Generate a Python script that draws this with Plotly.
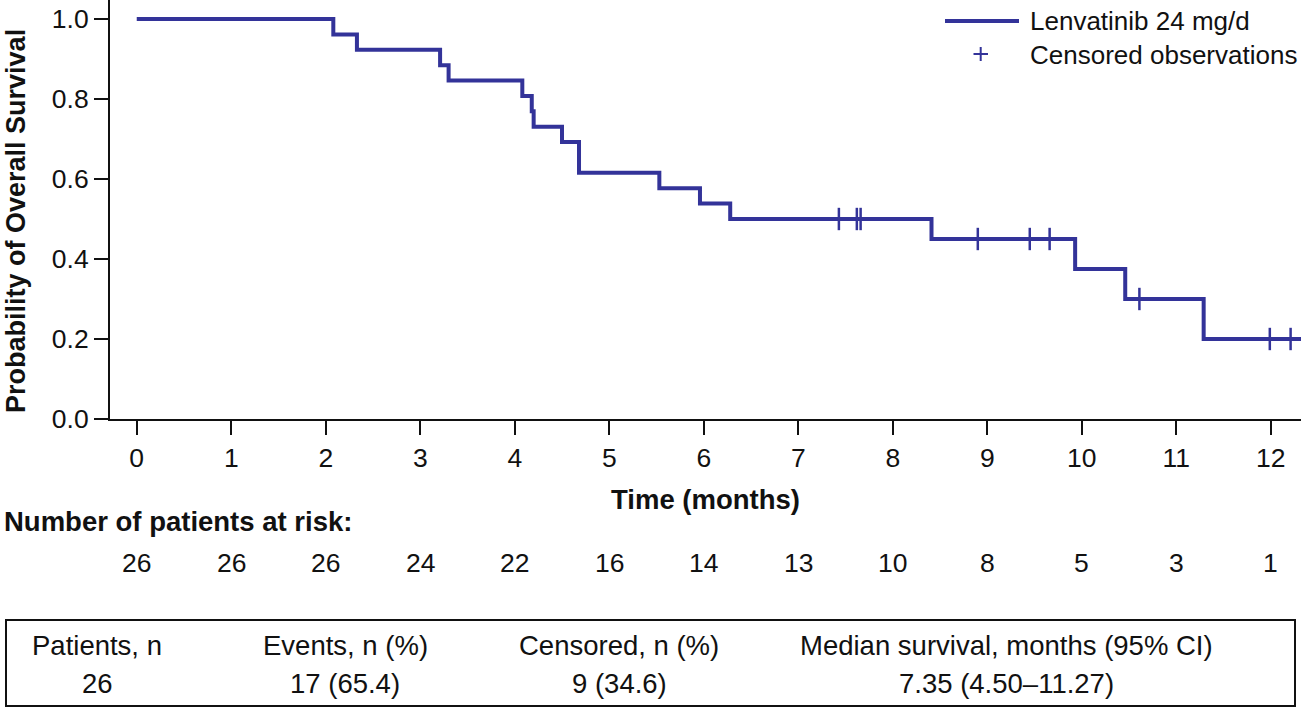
import plotly.graph_objects as go

# ---------------- data ----------------
# Kaplan-Meier step curve: time (months) and survival probability after each step
step_times = [0.0, 2.08, 2.33, 3.21, 3.30, 4.08, 4.18, 4.20, 4.50, 4.68, 5.53, 5.96, 6.28,
              8.41, 9.93, 10.46, 11.29, 12.32]
step_surv = [1.0, 0.9615, 0.9231, 0.8846, 0.8462, 0.8077, 0.7692, 0.7308, 0.6923, 0.6154,
             0.5769, 0.5385, 0.5000, 0.4500, 0.3750, 0.3000, 0.2000, 0.2000]

# Censored observations
censor_times = [7.43, 7.62, 7.66, 8.90, 9.45, 9.66, 10.61, 11.99, 12.21]
censor_surv = [0.50, 0.50, 0.50, 0.45, 0.45, 0.45, 0.30, 0.20, 0.20]

# Number at risk
risk_times = [0, 1, 2, 3, 4, 5, 6, 7, 8, 9, 10, 11, 12]
at_risk = [26, 26, 26, 24, 22, 16, 14, 13, 10, 8, 5, 3, 1]

# y ticks
y_ticks = [0.0, 0.2, 0.4, 0.6, 0.8, 1.0]
y_ticklabels = ["0.0", "0.2", "0.4", "0.6", "0.8", "1.0"]

# Summary table
table_headers = ["Patients, n", "Events, n (%)", "Censored, n (%)", "Median survival, months (95% CI)"]
table_values = ["26", "17 (65.4)", "9 (34.6)", "7.35 (4.50\u201311.27)"]

series_name = "Lenvatinib 24 mg/d"
censor_name = "Censored observations"

# ---------------- styling / layout ----------------
W, H = 1301, 708
ML, MR, MT, MB = 110, 0, 0, 289
PW, PH = W - ML - MR, H - MT - MB
LINE_COLOR = "#333399"
FONT = "Liberation Sans, Arial, Helvetica, sans-serif"
TXT = "#111111"
FS_TICK = 26.5
FS_TITLE = 27.5
FS_TABLE = 27.5
FS_LEG = 26


def px(xp):
    return (xp - ML) / PW


def py(yp):
    return (H - MB - yp) / PH


fig = go.Figure()
fig.add_trace(go.Scatter(
    x=step_times, y=step_surv, mode="lines", line_shape="hv",
    line=dict(color=LINE_COLOR, width=4), name=series_name, showlegend=False,
    hoverinfo="skip", cliponaxis=True))
fig.add_trace(go.Scatter(
    x=censor_times, y=censor_surv, mode="markers",
    marker=dict(symbol="line-ns", size=16, line=dict(color=LINE_COLOR, width=2.5)),
    name=censor_name, showlegend=False, hoverinfo="skip", cliponaxis=False))

annotations = []
shapes = []

# legend (drawn manually to match reference sizes)
shapes.append(dict(type="line", xref="paper", yref="paper",
                   x0=px(945), x1=px(1019), y0=py(21), y1=py(21),
                   line=dict(color=LINE_COLOR, width=4)))
shapes.append(dict(type="line", xref="paper", yref="paper",
                   x0=px(973.5), x1=px(988), y0=py(54), y1=py(54),
                   line=dict(color=LINE_COLOR, width=2)))
shapes.append(dict(type="line", xref="paper", yref="paper",
                   x0=px(980.7), x1=px(980.7), y0=py(47), y1=py(61),
                   line=dict(color=LINE_COLOR, width=2)))
for label, yy in [(series_name, 21), (censor_name, 55)]:
    annotations.append(dict(text=label, xref="paper", yref="paper", x=px(1028), y=py(yy),
                            xanchor="left", yanchor="middle", showarrow=False,
                            font=dict(size=FS_LEG, color=TXT, family=FONT)))

# y-axis title
annotations.append(dict(text="<b>Probability of Overall Survival</b>", xref="paper", yref="paper",
                        x=px(16), y=py(221), textangle=-90, xanchor="center", yanchor="middle",
                        showarrow=False, font=dict(size=27, color=TXT, family=FONT)))
# x-axis title
annotations.append(dict(text="<b>Time (months)</b>", xref="paper", yref="paper",
                        x=px(705), y=py(500), xanchor="center", yanchor="middle",
                        showarrow=False, font=dict(size=FS_TITLE, color=TXT, family=FONT)))
# number at risk
annotations.append(dict(text="<b>Number of patients at risk:</b>", xref="paper", yref="paper",
                        x=px(2), y=py(521), xanchor="left", yanchor="middle",
                        showarrow=False, font=dict(size=FS_TITLE, color=TXT, family=FONT)))
for t, n in zip(risk_times, at_risk):
    annotations.append(dict(text=str(n), xref="x", yref="paper", x=t, y=py(563),
                            xanchor="center", yanchor="middle", showarrow=False,
                            font=dict(size=FS_TICK, color=TXT, family=FONT)))

# summary table
shapes.append(dict(type="rect", xref="paper", yref="paper",
                   x0=px(6), x1=px(1295), y0=py(620), y1=py(706),
                   line=dict(color="#111111", width=2)))
col_centers = [97, 345, 619, 1006]
for cx, h, v in zip(col_centers, table_headers, table_values):
    annotations.append(dict(text=h, xref="paper", yref="paper", x=px(cx), y=py(645),
                            xanchor="center", yanchor="middle", showarrow=False,
                            font=dict(size=FS_TABLE, color=TXT, family=FONT)))
    annotations.append(dict(text=v, xref="paper", yref="paper", x=px(cx), y=py(683),
                            xanchor="center", yanchor="middle", showarrow=False,
                            font=dict(size=FS_TABLE, color=TXT, family=FONT)))

fig.update_layout(
    width=W, height=H, margin=dict(l=ML, r=MR, t=MT, b=MB, pad=0),
    paper_bgcolor="white", plot_bgcolor="white",
    font=dict(family=FONT, color=TXT, size=FS_TICK),
    showlegend=False,
    annotations=annotations, shapes=shapes,
    xaxis=dict(range=[-0.283, 12.32], tickvals=risk_times, ticks="outside", ticklen=14,
               tickwidth=2, tickcolor="#111111", showline=True, linewidth=2, linecolor="#111111",
               showgrid=False, zeroline=False, tickfont=dict(size=FS_TICK, color=TXT, family=FONT),
               fixedrange=True),
    yaxis=dict(range=[0, 1.0475], tickvals=y_ticks, ticktext=y_ticklabels, ticks="outside",
               ticklen=14, tickwidth=2, tickcolor="#111111", showline=True, linewidth=2,
               linecolor="#111111", showgrid=False, zeroline=False,
               tickfont=dict(size=FS_TICK, color=TXT, family=FONT), fixedrange=True),
)

fig.write_html("out.html", config={"displayModeBar": False, "staticPlot": True},
               post_script="document.body.style.margin='0';document.body.style.overflow='hidden';")
